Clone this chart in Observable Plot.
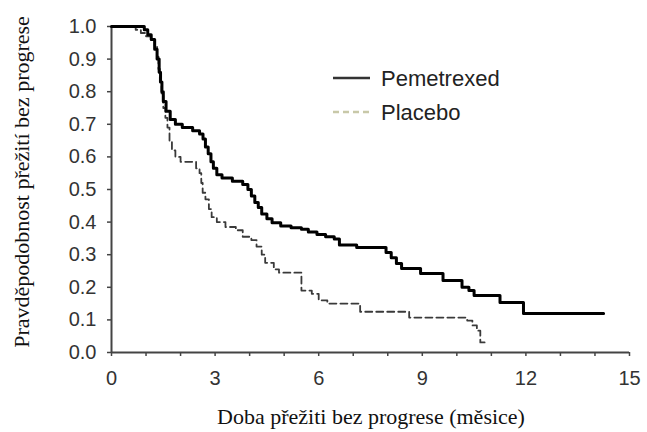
<!DOCTYPE html>
<html>
<head>
<meta charset="utf-8">
<script src="https://cdn.jsdelivr.net/npm/d3@7"></script>
<script src="https://cdn.jsdelivr.net/npm/@observablehq/plot@0.6"></script>
<style>
  html, body { margin: 0; padding: 0; background: #fff; }
  #chart { width: 647px; height: 432px; }
</style>
</head>
<body>
<div id="chart"></div>
<script>
// Series names (legend)
const seriesNames = ["Pemetrexed", "Placebo"];

// Pemetrexed Kaplan–Meier (step-after): time in months, survival probability
const pemTime = [0, 0.95, 1.05, 1.15, 1.25, 1.32, 1.38, 1.42, 1.46, 1.50, 1.58, 1.70, 1.85, 2.05, 2.35, 2.55, 2.65, 2.72, 2.80, 2.88, 2.95, 3.05, 3.2, 3.5, 3.8, 3.95, 4.05, 4.15, 4.25, 4.35, 4.5, 4.65, 4.9, 5.2, 5.5, 5.7, 5.95, 6.2, 6.45, 6.6, 7.1, 7.95, 8.1, 8.25, 8.4, 8.95, 9.6, 10.15, 10.35, 10.5, 11.25, 11.93, 14.25];
const pemSurv = [1.0, 0.99, 0.975, 0.96, 0.93, 0.90, 0.86, 0.83, 0.80, 0.77, 0.74, 0.715, 0.70, 0.69, 0.68, 0.67, 0.655, 0.63, 0.61, 0.585, 0.565, 0.545, 0.535, 0.525, 0.515, 0.50, 0.48, 0.46, 0.445, 0.425, 0.41, 0.398, 0.388, 0.383, 0.378, 0.37, 0.362, 0.355, 0.348, 0.33, 0.322, 0.307, 0.291, 0.273, 0.258, 0.242, 0.221, 0.20, 0.19, 0.175, 0.153, 0.12, 0.12];

// Placebo Kaplan–Meier
const plaTime = [0, 0.7, 0.85, 1.0, 1.15, 1.25, 1.32, 1.36, 1.40, 1.45, 1.50, 1.56, 1.62, 1.68, 1.75, 1.85, 2.0, 2.45, 2.55, 2.6, 2.64, 2.72, 2.82, 2.9, 3.05, 3.3, 3.6, 3.8, 4.05, 4.2, 4.35, 4.45, 4.7, 4.85, 5.5, 5.8, 6.0, 6.25, 7.2, 8.62, 10.3, 10.45, 10.58, 10.68, 10.9];
const plaSurv = [1.0, 0.99, 0.98, 0.97, 0.96, 0.94, 0.91, 0.87, 0.83, 0.79, 0.75, 0.72, 0.69, 0.65, 0.62, 0.60, 0.585, 0.565, 0.55, 0.52, 0.49, 0.47, 0.44, 0.415, 0.40, 0.385, 0.375, 0.355, 0.345, 0.325, 0.30, 0.275, 0.255, 0.245, 0.19, 0.18, 0.16, 0.15, 0.125, 0.107, 0.098, 0.083, 0.067, 0.031, 0.031];

// Axis ticks and labels
const xTicks = d3.range(0, 16, 1);
const xLabelTicks = [0, 3, 6, 9, 12, 15];
const yTicks = d3.range(0, 11, 1).map(d => d / 10);
const xTitle = "Doba přežiti bez progrese (měsice)";
const yTitle = "Pravděpodobnost přežití bez progrese";

const pem = pemTime.map((t, i) => ({t, s: pemSurv[i]}));
const pla = plaTime.map((t, i) => ({t, s: plaSurv[i]}));

const W = 647, H = 432;
const chart = Plot.plot({
  width: W,
  height: H,
  marginLeft: 111,
  marginRight: 18,
  marginTop: 26,
  marginBottom: 80,
  style: {background: "#fff", color: "#333", fontFamily: "Liberation Sans, Arial, sans-serif"},
  x: {domain: [0, 15]},
  y: {domain: [0, 1]},
  marks: [
    Plot.axisX({ticks: xTicks, tickSize: 4, tickPadding: 14, fontSize: 20, stroke: "#444", strokeWidth: 1.5,
      tickFormat: d => xLabelTicks.includes(d) ? String(d) : "", label: null, fill: "#333"}),
    Plot.axisY({ticks: yTicks, tickSize: 4, tickPadding: 11, fontSize: 20, stroke: "#444", strokeWidth: 1.5,
      tickFormat: d3.format(".1f"), label: null, fill: "#333"}),
    Plot.ruleX([0], {stroke: "#444", strokeWidth: 2}),
    Plot.ruleY([0], {stroke: "#444", strokeWidth: 2}),
    Plot.line(pla, {x: "t", y: "s", curve: "step-after", stroke: "#3a3a3a", strokeWidth: 1.8, strokeDasharray: "7,4"}),
    Plot.line(pem, {x: "t", y: "s", curve: "step-after", stroke: "#000", strokeWidth: 3})
  ]
});
document.getElementById("chart").appendChild(chart);

const svg = d3.select(chart);
// axis titles
svg.append("text")
  .attr("x", 371).attr("y", 424)
  .attr("text-anchor", "middle")
  .attr("font-family", "Liberation Serif, Times New Roman, serif")
  .attr("font-size", 22).attr("fill", "#111")
  .text(xTitle);
svg.append("text")
  .attr("transform", "translate(29,182) rotate(-90)")
  .attr("text-anchor", "middle")
  .attr("font-family", "Liberation Serif, Times New Roman, serif")
  .attr("font-size", 22).attr("fill", "#111")
  .text(yTitle);

// legend
const legend = svg.append("g");
const legY = [78, 112];
const legStroke = ["#333", "#c8c8a8"];
const legDash = [null, "6,4"];
const legW = [2.5, 2.5];
seriesNames.forEach((name, i) => {
  legend.append("line")
    .attr("x1", 333).attr("x2", 370)
    .attr("y1", legY[i]).attr("y2", legY[i])
    .attr("stroke", legStroke[i]).attr("stroke-width", legW[i])
    .attr("stroke-dasharray", legDash[i]);
  legend.append("text")
    .attr("x", 381).attr("y", legY[i])
    .attr("dy", "0.36em")
    .attr("text-anchor", "start")
    .attr("font-family", "Liberation Sans, Arial, sans-serif")
    .attr("font-size", 22).attr("fill", "#222")
    .text(name);
});
</script>
</body>
</html>
